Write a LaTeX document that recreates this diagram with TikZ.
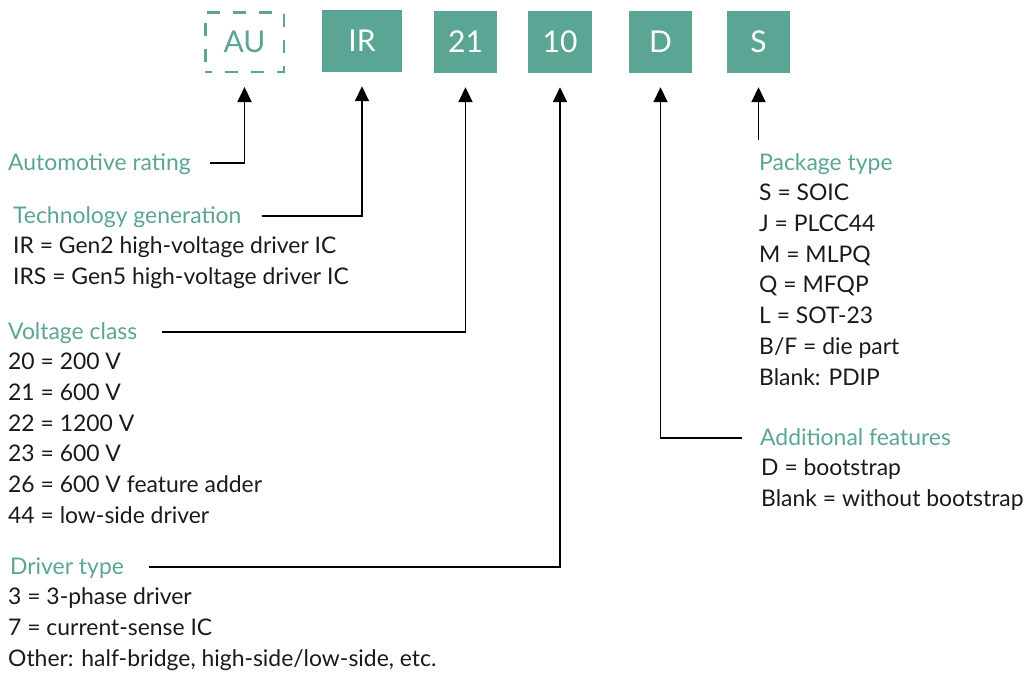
\documentclass[tikz,border=0pt]{standalone}
\usepackage{fontspec}
\setmainfont{Lato}
\usetikzlibrary{arrows.meta, positioning}
\definecolor{partteal}{HTML}{5BA594}
\definecolor{inktext}{HTML}{1A1A1A}

\begin{document}
\begin{tikzpicture}[
    x=1pt, y=-1pt,
    codebox/.style={rectangle, fill=partteal, text=white, minimum width=#1, minimum height=62pt, inner sep=0pt, font=\fontsize{30}{34}\selectfont},
    optbox/.style={rectangle, draw=partteal, line width=2.5pt, dash pattern=on 13pt off 13pt, dash phase=6.5pt, text=partteal, minimum width=78.5pt, minimum height=59.5pt, inner sep=0pt, font=\fontsize{30}{34}\selectfont},
    heading/.style={anchor=base west, inner sep=0pt, text height=16pt, text depth=2pt, text=partteal, font=\fontsize{22.9}{30.7}\selectfont},
    items/.style={inner sep=0pt, align=left, text=inktext, font=\fontsize{22.9}{30.7}\selectfont},
    arrow/.style={-{Triangle[length=15pt, width=14pt]}, line width=1.8pt, shorten >=14pt},
]
    \useasboundingbox (0,0) rectangle (1024,672);

    % part number fields
    \node[optbox] (au) at (244.5,42) {AU};
    \node[codebox=80pt] (ir) at (362,41) {IR};
    \node[codebox=63pt] (v21) at (465.5,42) {21};
    \node[codebox=64pt] (t10) at (560,42) {10};
    \node[codebox=63pt] (d) at (660.5,42) {D};
    \node[codebox=63pt] (s) at (758.5,42) {S};

    % left side legends
    \node[heading] (auto) at (8,170) {Automotive rating};
    \node[heading] (tech) at (13,223) {Technology generation};
    \node[items, below right=9.2pt and 0pt of tech.base west] (tech-list) {\strut IR = Gen2 high-voltage driver IC\\IRS = Gen5 high-voltage driver IC};
    \node[heading] (volt) at (8,339) {Voltage class};
    \node[items, below right=9.2pt and 0pt of volt.base west] (volt-list) {\strut 20 = 200 V\\21 = 600 V\\22 = 1200 V\\23 = 600 V\\26 = 600 V feature adder\\44 = low-side driver};
    \node[heading] (drv) at (10,574) {Driver type};
    \node[items, below right=9.2pt and -2pt of drv.base west] (drv-list) {\strut 3 = 3-phase driver\\7 = current-sense IC\\Other: half-bridge, high-side/low-side, etc.};

    % right side legends
    \node[heading] (pkg) at (759,170) {Package type};
    \node[items, below right=9.2pt and 0pt of pkg.base west] (pkg-list) {\strut S = SOIC\\J = PLCC44\\M = MLPQ\\Q = MFQP\\L = SOT-23\\B/F = die part\\Blank: PDIP};
    \node[heading] (addl) at (760,445) {Additional features};
    \node[items, below right=9.2pt and 1pt of addl.base west] (addl-list) {\strut D = bootstrap\\Blank = without bootstrap};

    \draw[arrow, shorten <=19pt] (auto.east) -| (au.south);
    \draw[arrow, shorten <=20pt] (tech.east) -| (ir.south);
    \draw[arrow, shorten <=25pt] (volt.east) -| (v21.south);
    \draw[arrow, shorten <=25pt] (drv.east) -| (t10.south);
    \draw[arrow, shorten <=18pt] (addl.west) -| (d.south);
    \draw[arrow, shorten <=14pt] (pkg.north -| s.south) -- (s.south);
\end{tikzpicture}
\end{document}
